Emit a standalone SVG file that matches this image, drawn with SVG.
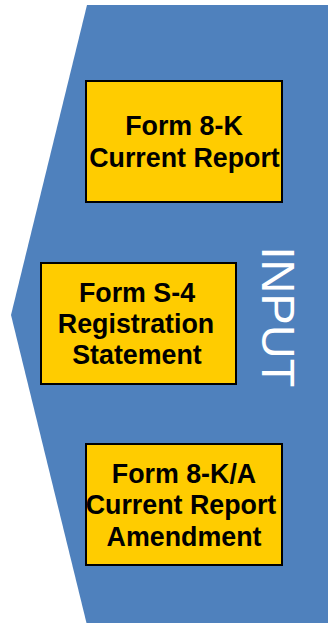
<svg xmlns="http://www.w3.org/2000/svg" width="328" height="623" viewBox="0 0 328 623">
  <style>
    .box { fill: #FFCC00; stroke: #000000; stroke-width: 2; }
    .label { font-family: "Liberation Sans", Arial, sans-serif; font-weight: bold; font-size: 26.8px; fill: #000000; text-anchor: middle; }
    .title { font-family: "Liberation Sans", Arial, sans-serif; font-size: 47px; fill: #FFFFFF; text-anchor: middle; }
  </style>
  <rect width="328" height="623" fill="#FFFFFF"/>
  <!-- left-pointing chevron panel -->
  <g id="panel">
    <polygon points="87,5 328,5 328,625 87,625 11,315" fill="#4F81BD"/>
    <text class="title" transform="translate(262,317) rotate(90)">INPUT</text>
  </g>
  <g id="connectors"></g>
  <g id="form-8k">
    <rect class="box" x="86" y="81" width="196" height="121"/>
    <text class="label" x="184" y="135">Form 8-K</text>
    <text class="label" x="184.5" y="167">Current Report</text>
  </g>
  <g id="form-s4">
    <rect class="box" x="41" y="263" width="195" height="121"/>
    <text class="label" x="137" y="302">Form S-4</text>
    <text class="label" x="136" y="333">Registration</text>
    <text class="label" x="137" y="364">Statement</text>
  </g>
  <g id="form-8ka">
    <rect class="box" x="86" y="444" width="196" height="121"/>
    <text class="label" x="184" y="483">Form 8-K/A</text>
    <text class="label" x="181" y="514">Current Report</text>
    <text class="label" x="184" y="546">Amendment</text>
  </g>
</svg>
